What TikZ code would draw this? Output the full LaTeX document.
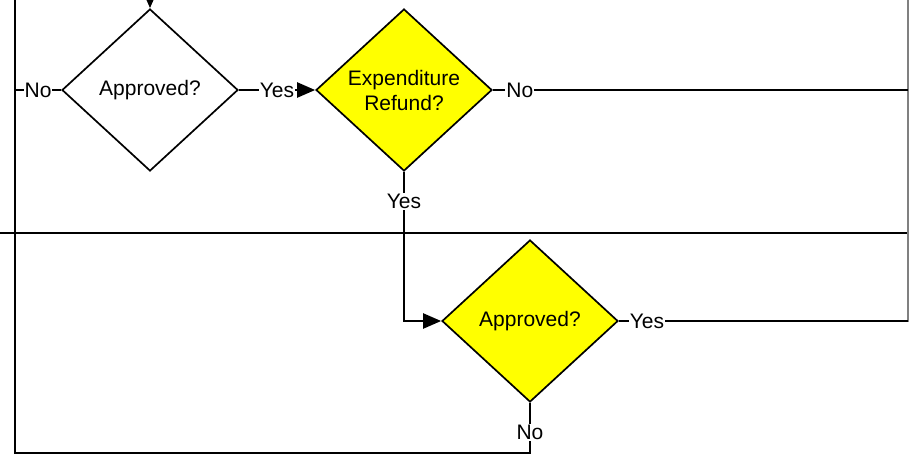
\documentclass[tikz,border=0pt]{standalone}
\usepackage{fontspec}
\setmainfont{Liberation Sans}
\usetikzlibrary{shapes.geometric,arrows.meta}
\definecolor{dyel}{RGB}{255,255,0}
\begin{document}
\begin{tikzpicture}[x=1pt,y=-1pt,
  dec/.style={draw=black, line width=1.7pt, shape=diamond, aspect=1.086,
    minimum width=176pt, minimum height=162pt, inner sep=0pt, align=center,
    font=\fontsize{21}{25}\selectfont},
  yesdec/.style={dec, fill=dyel},
  conn/.style={draw=black, line width=2.3pt},
  arr/.style={conn, -{Triangle[length=18pt,width=15pt]}},
  lbl/.style={fill=white, inner sep=1pt, font=\fontsize{21}{25}\selectfont},
  lane/.style={draw=black, line width=2.3pt}]
\fill[white] (0,0) rectangle (909,455);
\useasboundingbox (0,0) rectangle (909,455);
\clip (0,0) rectangle (909,455);
% lanes
\draw[lane] (0,233) -- (909,233);
\draw[gray, line width=1.5pt] (908,-2) -- (908,322);
% decisions
\node[dec] (d1) at (150,90) {Approved?};
\node[yesdec] (d2) at (404,90) {Expenditure\\Refund?};
\node[yesdec] (d3) at (530,321) {Approved?};
% free ends
\coordinate (t1) at (150,-20);
\coordinate (j1) at (15,90);
\coordinate (e1) at (908,90);
\coordinate (e2) at (908,321);
\coordinate (b1) at (530,453);
\coordinate (b2) at (15,453);
\coordinate (b3) at (15,-5);
% connectors
\draw[arr] (t1) -- (d1.north);
\draw[arr] (d1.east) -- node[lbl,pos=0.5]{Yes} (d2.west);
\draw[conn] (d1.west) -- node[lbl,midway]{No} (j1);
\draw[conn] (d2.east) -- node[lbl,pos=0.065]{No} (e1);
\draw[arr] (d2.south) |- node[lbl,pos=0.1]{Yes} (d3.west);
\draw[conn] (d3.east) -- node[lbl,pos=0.097]{Yes} (e2);
\draw[conn] (d3.south) -- node[lbl,pos=0.59]{No} (b1) -- (b2) -- (b3);
\end{tikzpicture}
\end{document}
